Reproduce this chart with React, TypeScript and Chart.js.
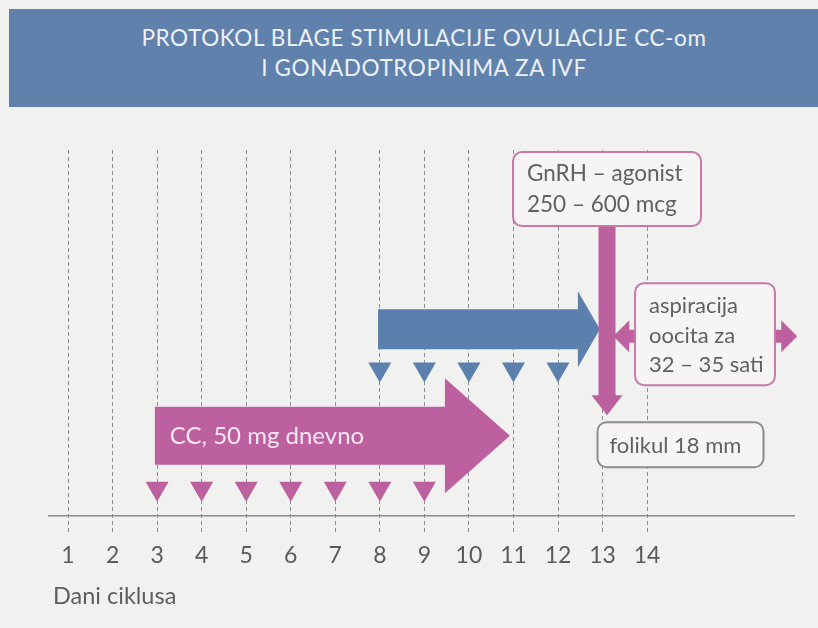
import React, { useEffect, useRef } from "react";
import { Chart, registerables } from "chart.js";

Chart.register(...registerables);

// ---------- data ----------
const TITLE_LINES = ["PROTOKOL BLAGE STIMULACIJE OVULACIJE CC-om", "I GONADOTROPINIMA ZA IVF"];
const DAYS = [1, 2, 3, 4, 5, 6, 7, 8, 9, 10, 11, 12, 13, 14];
const X_AXIS_TITLE = "Dani ciklusa";

const CC_DOSE_DAYS = [3, 4, 5, 6, 7, 8, 9];
const CC_DOSE_LEVEL = 4.4;
const GONADOTROPIN_DOSE_DAYS = [8, 9, 10, 11, 12];
const GONADOTROPIN_DOSE_LEVEL = 16.3;

const CC_PERIOD = [2.95, 10.92]; // start day, arrow tip day
const CC_LEVEL = 9.65;
const CC_LABEL = "CC, 50 mg dnevno";

const GONADOTROPIN_PERIOD = [7.96, 12.94];
const GONADOTROPIN_LEVEL = 20.3;

const TRIGGER_DAY = 13.1;
const TRIGGER_RANGE = [30.6, 11.7]; // level from -> to
const TRIGGER_LABEL = ["GnRH – agonist", "250 – 600 mcg"];

const ASPIRATION_RANGE = [13.24, 17.37]; // arrow tips (days)
const ASPIRATION_BOX_DAYS = [13.73, 16.87];
const ASPIRATION_LEVEL = 19.6;
const ASPIRATION_LABEL = ["aspiracija", "oocita za", "32 – 35 sati"];

const FOLLICLE_LABEL = "folikul 18 mm";

const AXIS_LEVEL = 1.7;
const X_RANGE = [0.551, 17.32];
const Y_RANGE = [0, 38.2];

// ---------- styles ----------
const PINK = "#bd609f";
const PINK_BORDER = "#c77aa8";
const BLUE = "#5b80ad";
const HEADER_BG = "#6081ac";
const PAGE_BG = "#f1f1ef";
const BOX_BG = "#f6f5f4";
const TEXT = "#616161";
const FONT = "Lato, 'Open Sans', sans-serif";

function hArrow(ctx: CanvasRenderingContext2D, x0: number, x1: number, yc: number, bodyHalf: number, headHalf: number, headLen: number, color: string) {
  const hx = x1 - headLen;
  ctx.beginPath();
  ctx.moveTo(x0, yc - bodyHalf);
  ctx.lineTo(hx, yc - bodyHalf);
  ctx.lineTo(hx, yc - headHalf);
  ctx.lineTo(x1, yc);
  ctx.lineTo(hx, yc + headHalf);
  ctx.lineTo(hx, yc + bodyHalf);
  ctx.lineTo(x0, yc + bodyHalf);
  ctx.closePath();
  ctx.fillStyle = color;
  ctx.fill();
}

function vArrow(ctx: CanvasRenderingContext2D, xc: number, y0: number, y1: number, bodyHalf: number, headHalf: number, headLen: number, color: string) {
  const hy = y1 - headLen;
  ctx.beginPath();
  ctx.moveTo(xc - bodyHalf, y0);
  ctx.lineTo(xc - bodyHalf, hy);
  ctx.lineTo(xc - headHalf, hy);
  ctx.lineTo(xc, y1);
  ctx.lineTo(xc + headHalf, hy);
  ctx.lineTo(xc + bodyHalf, hy);
  ctx.lineTo(xc + bodyHalf, y0);
  ctx.closePath();
  ctx.fillStyle = color;
  ctx.fill();
}

function doubleArrow(ctx: CanvasRenderingContext2D, x0: number, x1: number, yc: number, bodyHalf: number, headHalf: number, headLen: number, color: string) {
  ctx.beginPath();
  ctx.moveTo(x0, yc);
  ctx.lineTo(x0 + headLen, yc - headHalf);
  ctx.lineTo(x0 + headLen, yc - bodyHalf);
  ctx.lineTo(x1 - headLen, yc - bodyHalf);
  ctx.lineTo(x1 - headLen, yc - headHalf);
  ctx.lineTo(x1, yc);
  ctx.lineTo(x1 - headLen, yc + headHalf);
  ctx.lineTo(x1 - headLen, yc + bodyHalf);
  ctx.lineTo(x0 + headLen, yc + bodyHalf);
  ctx.lineTo(x0 + headLen, yc + headHalf);
  ctx.closePath();
  ctx.fillStyle = color;
  ctx.fill();
}

function roundBox(ctx: CanvasRenderingContext2D, x: number, y: number, w: number, h: number, r: number, stroke: string) {
  ctx.beginPath();
  ctx.moveTo(x + r, y);
  ctx.lineTo(x + w - r, y);
  ctx.arcTo(x + w, y, x + w, y + r, r);
  ctx.lineTo(x + w, y + h - r);
  ctx.arcTo(x + w, y + h, x + w - r, y + h, r);
  ctx.lineTo(x + r, y + h);
  ctx.arcTo(x, y + h, x, y + h - r, r);
  ctx.lineTo(x, y + r);
  ctx.arcTo(x, y, x + r, y, r);
  ctx.closePath();
  ctx.fillStyle = BOX_BG;
  ctx.fill();
  ctx.lineWidth = 2;
  ctx.strokeStyle = stroke;
  ctx.stroke();
}

const diagramPlugin = {
  id: "diagram",
  beforeDatasetsDraw(chart: any) {
    const { ctx } = chart;
    const x = chart.scales.x;
    const y = chart.scales.y;
    ctx.save();
    // gonadotropin arrow
    hArrow(ctx, x.getPixelForValue(GONADOTROPIN_PERIOD[0]), x.getPixelForValue(GONADOTROPIN_PERIOD[1]), y.getPixelForValue(GONADOTROPIN_LEVEL), 20, 38, 22, BLUE);
    // CC arrow
    const ccY = y.getPixelForValue(CC_LEVEL);
    const ccX0 = x.getPixelForValue(CC_PERIOD[0]);
    hArrow(ctx, ccX0, x.getPixelForValue(CC_PERIOD[1]), ccY, 29, 57.5, 65, PINK);
    ctx.fillStyle = "#f6e8f1";
    ctx.font = `24px ${FONT}`;
    ctx.textBaseline = "alphabetic";
    ctx.textAlign = "left";
    ctx.fillText(CC_LABEL, ccX0 + 15, ccY + 8);
    // aspiration double arrow
    doubleArrow(ctx, x.getPixelForValue(ASPIRATION_RANGE[0]), x.getPixelForValue(ASPIRATION_RANGE[1]), y.getPixelForValue(ASPIRATION_LEVEL), 6.5, 16, 16, PINK);
    // trigger arrow
    vArrow(ctx, x.getPixelForValue(TRIGGER_DAY), y.getPixelForValue(TRIGGER_RANGE[0]), y.getPixelForValue(TRIGGER_RANGE[1]), 8.5, 15.5, 20, PINK);
    ctx.restore();
  },
  afterDatasetsDraw(chart: any) {
    const { ctx } = chart;
    const x = chart.scales.x;
    const y = chart.scales.y;
    ctx.save();
    ctx.font = `22.5px ${FONT}`;
    ctx.textAlign = "left";
    ctx.textBaseline = "alphabetic";
    const tx = x.getPixelForValue(TRIGGER_DAY);
    // GnRH box
    const gTop = y.getPixelForValue(TRIGGER_RANGE[0]) - 74;
    const gLeft = tx - 94;
    roundBox(ctx, gLeft, gTop, 188, 74, 9, PINK_BORDER);
    ctx.fillStyle = TEXT;
    TRIGGER_LABEL.forEach((t, i) => ctx.fillText(t, gLeft + 14, gTop + 29 + i * 31));
    // aspiration box
    const aLeft = x.getPixelForValue(ASPIRATION_BOX_DAYS[0]);
    const aRight = x.getPixelForValue(ASPIRATION_BOX_DAYS[1]);
    const aTop = y.getPixelForValue(ASPIRATION_LEVEL) - 53;
    roundBox(ctx, aLeft, aTop, aRight - aLeft, 102, 9, PINK_BORDER);
    ctx.font = `22px ${FONT}`;
    ctx.fillStyle = TEXT;
    ASPIRATION_LABEL.forEach((t, i) => ctx.fillText(t, aLeft + 14, aTop + 30 + i * 29.5));
    // follicle box
    const fLeft = tx - 9.5;
    const fTop = y.getPixelForValue(TRIGGER_RANGE[1]) + 7;
    roundBox(ctx, fLeft, fTop, 166, 45, 9, "#8c8c8c");
    ctx.fillStyle = TEXT;
    ctx.fillText(FOLLICLE_LABEL, fLeft + 12, fTop + 31);
    // x axis title
    ctx.font = `23.5px ${FONT}`;
    ctx.fillStyle = "#5e5e5e";
    ctx.fillText(X_AXIS_TITLE, x.left + 5, 604);
    ctx.restore();
  },
};

export default function App() {
  const ref = useRef<HTMLCanvasElement | null>(null);
  useEffect(() => {
    if (!ref.current) return;
    const chart = new Chart(ref.current, {
      type: "scatter",
      data: {
        datasets: [
          {
            data: CC_DOSE_DAYS.map((d) => ({ x: d, y: CC_DOSE_LEVEL })),
            pointStyle: "triangle",
            rotation: 180,
            radius: 13.3,
            backgroundColor: PINK,
            borderWidth: 0,
          },
          {
            data: GONADOTROPIN_DOSE_DAYS.map((d) => ({ x: d, y: GONADOTROPIN_DOSE_LEVEL })),
            pointStyle: "triangle",
            rotation: 180,
            radius: 13.3,
            backgroundColor: BLUE,
            borderWidth: 0,
          },
        ],
      },
      options: {
        responsive: false,
        animation: false,
        events: [],
        layout: { padding: { left: 48, right: 23, top: 150, bottom: 50 } },
        plugins: { legend: { display: false }, tooltip: { enabled: false }, title: { display: false } },
        scales: {
          x: {
            type: "linear",
            min: X_RANGE[0],
            max: X_RANGE[1],
            afterBuildTicks: (s: any) => {
              s.ticks = DAYS.map((v) => ({ value: v }));
            },
            ticks: {
              callback: (v: any) => String(v),
              font: { family: FONT, size: 23 },
              color: "#5a5a5a",
              padding: 9,
              maxRotation: 0,
              autoSkip: false,
            },
            grid: { color: "#8e8e8e", lineWidth: 1, drawTicks: false },
            border: { display: false, dash: [4, 3] },
          },
          y: {
            type: "linear",
            min: Y_RANGE[0],
            max: Y_RANGE[1],
            afterBuildTicks: (s: any) => {
              s.ticks = [{ value: AXIS_LEVEL }];
            },
            ticks: { display: false },
            grid: { color: "#8a8a8a", lineWidth: 1.5, drawTicks: false },
            border: { display: false },
          },
        },
      } as any,
      plugins: [diagramPlugin],
    });
    return () => chart.destroy();
  }, []);

  return (
    <div style={{ position: "fixed", left: 0, top: 0, width: 818, height: 628, background: PAGE_BG, overflow: "hidden" }}>
      <div style={{ position: "absolute", left: 9, top: 9, width: 809, height: 98, background: HEADER_BG }} />
      <div
        style={{
          position: "absolute",
          left: 0,
          top: 23,
          width: 848,
          textAlign: "center",
          fontFamily: FONT,
          fontSize: 22.5,
          letterSpacing: "0.6px",
          lineHeight: "30px",
          color: "#edf1f6",
        }}
      >
        {TITLE_LINES.map((l) => (
          <div key={l}>{l}</div>
        ))}
      </div>
      <canvas ref={ref} width={818} height={628} style={{ position: "absolute", left: 0, top: 0, display: "block" }} />
    </div>
  );
}
